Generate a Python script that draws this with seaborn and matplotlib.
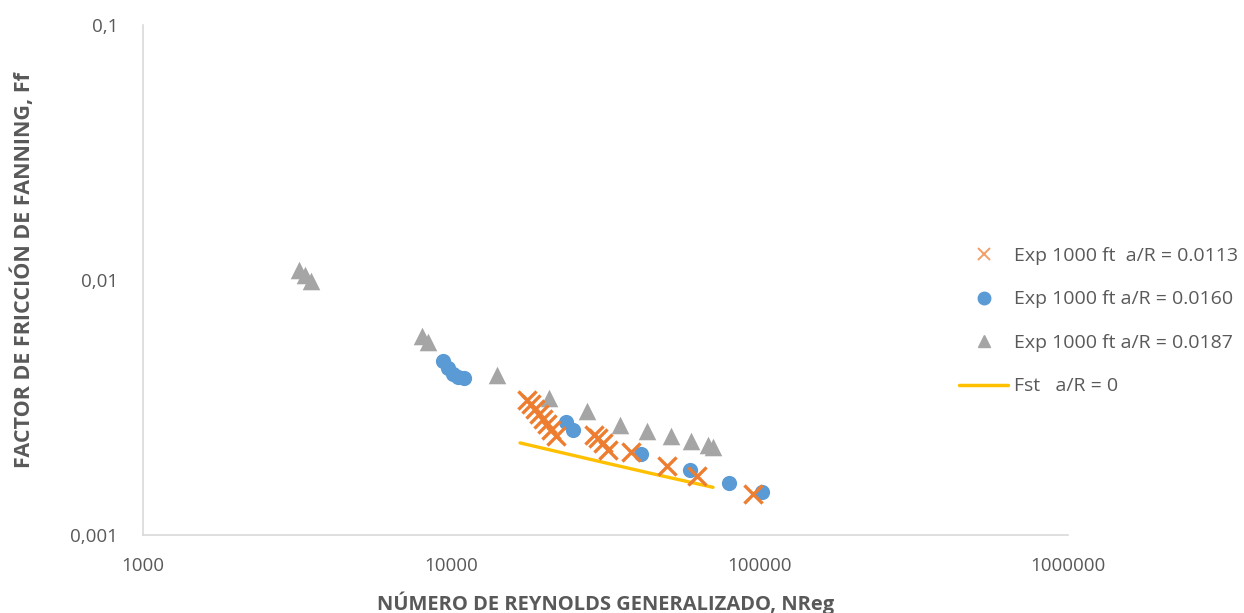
import matplotlib
matplotlib.use("Agg")
import matplotlib.pyplot as plt
import matplotlib.ticker as mtick
from matplotlib.lines import Line2D
import pandas as pd
import seaborn as sns

# %% Data
re_0113 = [17610, 18140, 18690, 19240, 19830, 20430, 21050, 21860,
           29040, 29920, 31050, 32230, 38280, 50100, 62650, 95200]
ff_0113 = [0.00338, 0.00327, 0.00312, 0.00298, 0.00285, 0.00272, 0.00258, 0.00245,
           0.00247, 0.00240, 0.00230, 0.00216, 0.00212, 0.00187, 0.00170, 0.00145]

re_0160 = [9400, 9750, 10130, 10510, 11000, 23550, 24820, 41250, 59500, 79600, 101800]
ff_0160 = [0.00481, 0.00452, 0.00428, 0.00417, 0.00413, 0.00277, 0.00258, 0.00208,
           0.00180, 0.00160, 0.00148]

re_0187 = [3206, 3352, 3506, 8035, 8400, 14070, 20750, 27550, 35270, 43140, 51600,
           59900, 67800, 70500]
ff_0187 = [0.01094, 0.01047, 0.00990, 0.00603, 0.00571, 0.00424, 0.00345, 0.00306,
           0.00270, 0.00256, 0.00245, 0.00234, 0.00226, 0.00221]

re_fst = [16700, 30500, 44100, 70600]
ff_fst = [0.00230, 0.00194, 0.00175, 0.00154]

labels = ["Exp 1000 ft  a/R = 0.0113", "Exp 1000 ft a/R = 0.0160",
          "Exp 1000 ft a/R = 0.0187", "Fst   a/R = 0"]
x_ticks = [1000, 10000, 100000, 1000000]
x_tick_labels = ["1000", "10000", "100000", "1000000"]
y_ticks = [0.001, 0.01, 0.1]
y_tick_labels = ["0,001", "0,01", "0,1"]

# %% Style
sns.set_theme(style="white")
plt.rcParams['font.family'] = ['Open Sans', 'DejaVu Sans']
c_orange = "#ED7D31"
c_blue = "#5B9BD5"
c_gray = "#A5A5A5"
c_gold = "#FFC000"
txt = "#595959"

fig = plt.figure(figsize=(12.44, 6.13), dpi=100)
ax = fig.add_axes([0.115, 0.127, 0.7435, 0.832])

df13 = pd.DataFrame({'Re': re_0113, 'Ff': ff_0113})
df16 = pd.DataFrame({'Re': re_0160, 'Ff': ff_0160})
df18 = pd.DataFrame({'Re': re_0187, 'Ff': ff_0187})
dfst = pd.DataFrame({'Re': re_fst, 'Ff': ff_fst})

sns.scatterplot(data=df18, x='Re', y='Ff', marker='^', s=160, color=c_gray,
                edgecolor=c_gray, linewidth=0, ax=ax, zorder=3)
sns.scatterplot(data=df16, x='Re', y='Ff', marker='o', s=120, color=c_blue,
                edgecolor=c_blue, linewidth=0, ax=ax, zorder=4)
sns.scatterplot(data=df13, x='Re', y='Ff', marker='x', s=170, color=c_orange,
                linewidth=2.4, ax=ax, zorder=5)
sns.lineplot(data=dfst, x='Re', y='Ff', color=c_gold, linewidth=2.4, ax=ax, zorder=2)

ax.set_xscale('log')
ax.set_yscale('log')
ax.set_xlim(1000, 1000000)
ax.set_ylim(0.001, 0.1)
ax.xaxis.set_major_locator(mtick.FixedLocator(x_ticks))
ax.xaxis.set_major_formatter(mtick.FixedFormatter(x_tick_labels))
ax.yaxis.set_major_locator(mtick.FixedLocator(y_ticks))
ax.yaxis.set_major_formatter(mtick.FixedFormatter(y_tick_labels))
ax.xaxis.set_minor_locator(mtick.NullLocator())
ax.yaxis.set_minor_locator(mtick.NullLocator())
ax.tick_params(axis='both', length=0, labelsize=13.5, colors=txt)
ax.tick_params(axis='x', pad=16)
ax.tick_params(axis='y', pad=18)

for side in ['top', 'right']:
    ax.spines[side].set_visible(False)
for side in ['left', 'bottom']:
    ax.spines[side].set_color("#D9D9D9")
    ax.spines[side].set_linewidth(1.2)

ax.set_xlabel("NÚMERO DE REYNOLDS GENERALIZADO, NReg", fontsize=14.5,
              fontweight='bold', color=txt)
ax.set_ylabel("FACTOR DE FRICCIÓN DE FANNING, Ff", fontsize=15.5,
              fontweight='bold', color=txt)
ax.xaxis.set_label_coords(0.5, -0.11)
ax.yaxis.set_label_coords(-0.117, 0.52)

handles = [
    Line2D([], [], linestyle='none', marker='x', markersize=9, markeredgewidth=1.4,
           color=c_orange, alpha=0.75),
    Line2D([], [], linestyle='none', marker='o', markersize=9, color=c_blue),
    Line2D([], [], linestyle='none', marker='^', markersize=8, color=c_gray),
    Line2D([], [], color=c_gold, linewidth=2.5),
]
leg = fig.legend(handles, labels, loc='center left', bbox_to_anchor=(0.765, 0.476),
                 frameon=False, fontsize=14, labelspacing=1.31, handlelength=2.5,
                 handletextpad=0.3, labelcolor=txt, borderaxespad=0)

fig.savefig("out.png", dpi=100)
